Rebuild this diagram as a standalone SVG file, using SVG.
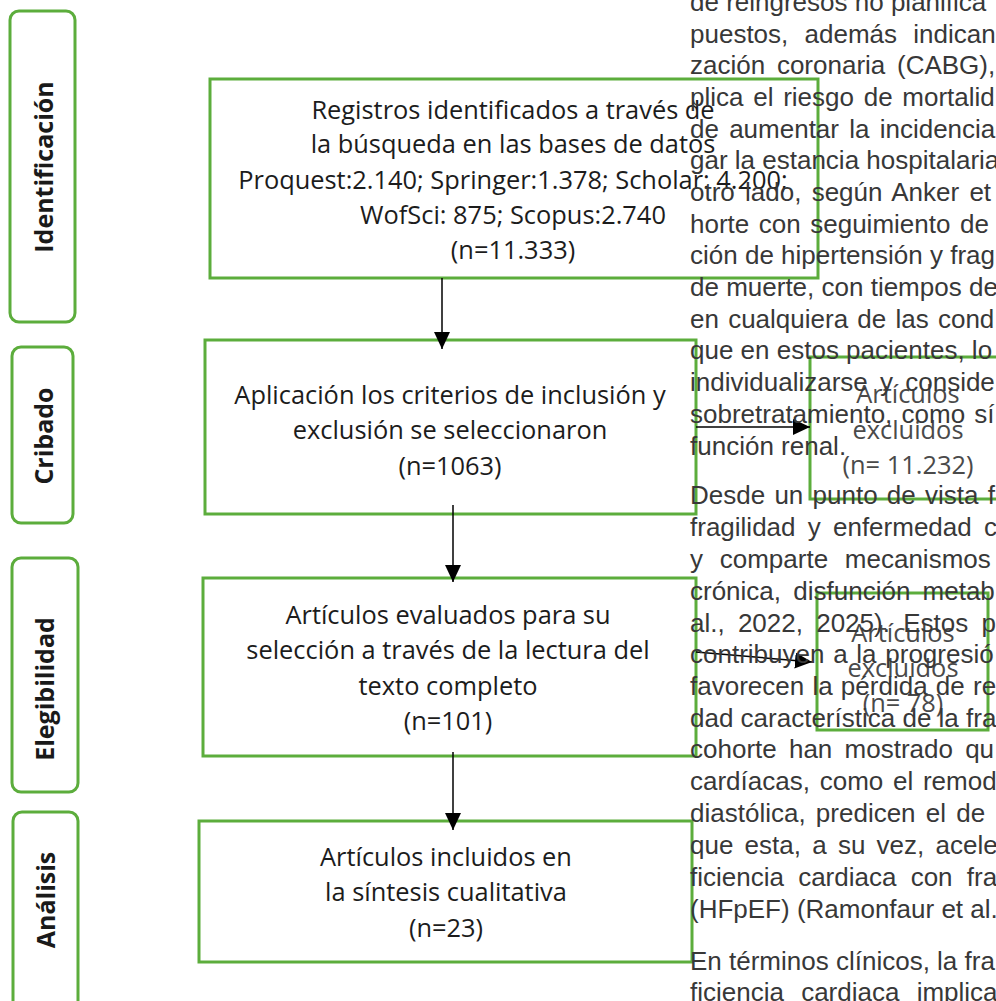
<svg xmlns="http://www.w3.org/2000/svg" width="996" height="1001" viewBox="0 0 996 1001">
<defs>
<style>
.phase{fill:#fff;stroke:#5cad3c;stroke-width:3}
.box{fill:#fff;stroke:#5cad3c;stroke-width:3}
.pt{font-family:"Open Sans","Liberation Sans",sans-serif;font-weight:700;font-size:25px;fill:#1a1a1a;text-anchor:middle}
.bt{font-family:"Open Sans","Liberation Sans",sans-serif;font-size:25.4px;fill:#1c1c1c;text-anchor:middle}
.xt{font-family:"Open Sans","Liberation Sans",sans-serif;font-size:25.4px;fill:#4a4a4a;text-anchor:middle}
.body{font-family:"Liberation Sans",Arial,sans-serif;font-size:26px;fill:#383838}
.conn{stroke:#000;stroke-width:1.5;fill:none;marker-end:url(#ah)}
</style>
<marker id="ah" markerUnits="userSpaceOnUse" markerWidth="17" markerHeight="16" viewBox="0 0 17 16" refX="17" refY="8" orient="auto"><path d="M0,0 L17,8 L0,16 Z" fill="#000"/></marker>
</defs>
<rect width="996" height="1001" fill="#fff"/>
<g id="phase-identificacion"><rect class="phase" x="10" y="11" width="65" height="311" rx="9"/><text class="pt" transform="translate(53,167) rotate(-90)">Identificación</text></g>
<g id="phase-cribado"><rect class="phase" x="12" y="347" width="61" height="176" rx="9"/><text class="pt" transform="translate(53,436) rotate(-90)">Cribado</text></g>
<g id="phase-elegibilidad"><rect class="phase" x="12" y="558" width="66" height="234" rx="9"/><text class="pt" transform="translate(54,689) rotate(-90)">Elegibilidad</text></g>
<g id="phase-analisis"><rect class="phase" x="13" y="812" width="65" height="200" rx="9"/><text class="pt" transform="translate(55,900) rotate(-90)">Análisis</text></g>
<g id="box-registros"><rect class="box" x="210" y="79" width="608" height="199"/>
<text class="bt" x="513" y="119">Registros identificados a través de</text>
<text class="bt" x="513" y="153">la búsqueda en las bases de datos</text>
<text class="bt" x="513" y="189">Proquest:2.140; Springer:1.378; Scholar: 4.200;</text>
<text class="bt" x="513" y="224">WofSci: 875; Scopus:2.740</text>
<text class="bt" x="513" y="259">(n=11.333)</text></g>
<g id="box-cribado"><rect class="box" x="205" y="340" width="491" height="174"/>
<text class="bt" x="450" y="404">Aplicación los criterios de inclusión y</text>
<text class="bt" x="450" y="439">exclusión se seleccionaron</text>
<text class="bt" x="450" y="475">(n=1063)</text></g>
<g id="box-excluidos-1"><rect class="box" x="810" y="357" width="200" height="142"/>
<text class="xt" x="908" y="403">Artículos</text>
<text class="xt" x="908" y="439">excluidos</text>
<text class="xt" x="908" y="474">(n= 11.232)</text></g>
<g id="box-evaluados"><rect class="box" x="203" y="578" width="493" height="178"/>
<text class="bt" x="448" y="624">Artículos evaluados para su</text>
<text class="bt" x="448" y="659">selección a través de la lectura del</text>
<text class="bt" x="448" y="695">texto completo</text>
<text class="bt" x="448" y="730">(n=101)</text></g>
<g id="box-excluidos-2"><rect class="box" x="817" y="593" width="171" height="137"/>
<text class="xt" x="903" y="642">Artículos</text>
<text class="xt" x="903" y="677">excluidos</text>
<text class="xt" x="903" y="712">(n= 78)</text></g>
<g id="box-incluidos"><rect class="box" x="199" y="821" width="493" height="141"/>
<text class="bt" x="446" y="866">Artículos incluidos en</text>
<text class="bt" x="446" y="901">la síntesis cualitativa</text>
<text class="bt" x="446" y="937">(n=23)</text></g>
<g id="connectors">
<path class="conn" d="M442,278 V349"/>
<path class="conn" d="M453,505 V582"/>
<path class="conn" d="M453,752 V830"/>
<path class="conn" d="M696,427 H810"/>
<path class="conn" d="M696,652 L812,662"/>
</g>
<g id="body-text" class="body">
<text x="690" y="11">de reingresos no planifica</text>
<text x="690" y="43" word-spacing="9">puestos, además indican</text>
<text x="690" y="74" word-spacing="4.5">zación coronaria (CABG),</text>
<text x="690" y="106" word-spacing="2.5">plica el riesgo de mortalid</text>
<text x="690" y="138" word-spacing="3">de aumentar la incidencia</text>
<text x="690" y="169">gar la estancia hospitalaria</text>
<text x="690" y="201" word-spacing="3">otro lado, según Anker et</text>
<text x="690" y="233" word-spacing="2.3">horte con seguimiento de</text>
<text x="690" y="264">ción de hipertensión y frag</text>
<text x="690" y="296">de muerte, con tiempos de</text>
<text x="690" y="328" word-spacing="2">en cualquiera de las cond</text>
<text x="690" y="359">que en estos pacientes, lo</text>
<text x="690" y="391" word-spacing="5">individualizarse y conside</text>
<text x="690" y="423" word-spacing="2">sobretratamiento, como sí</text>
<text x="690" y="455">función renal.</text>
<text x="690" y="504" word-spacing="2">Desde un punto de vista f</text>
<text x="690" y="536" word-spacing="5">fragilidad y enfermedad c</text>
<text x="690" y="568" word-spacing="9.5">y comparte mecanismos</text>
<text x="690" y="600" word-spacing="5">crónica, disfunción metab</text>
<text x="690" y="632" word-spacing="6">al., 2022, 2025). Estos p</text>
<text x="690" y="663" word-spacing="1.5">contribuyen a la progresió</text>
<text x="690" y="695" word-spacing="1">favorecen la pérdida de re</text>
<text x="690" y="727">dad característica de la fra</text>
<text x="690" y="758" word-spacing="5">cohorte han mostrado qu</text>
<text x="690" y="790" word-spacing="2.5">cardíacas, como el remod</text>
<text x="690" y="822" word-spacing="3">diastólica, predicen el de</text>
<text x="690" y="854" word-spacing="4">que esta, a su vez, acele</text>
<text x="690" y="886" word-spacing="7">ficiencia cardiaca con fra</text>
<text x="690" y="918">(HFpEF) (Ramonfaur et al.</text>
<text x="690" y="970">En términos clínicos, la fra</text>
<text x="690" y="1001" word-spacing="10">ficiencia cardiaca implica</text>
</g>
</svg>
